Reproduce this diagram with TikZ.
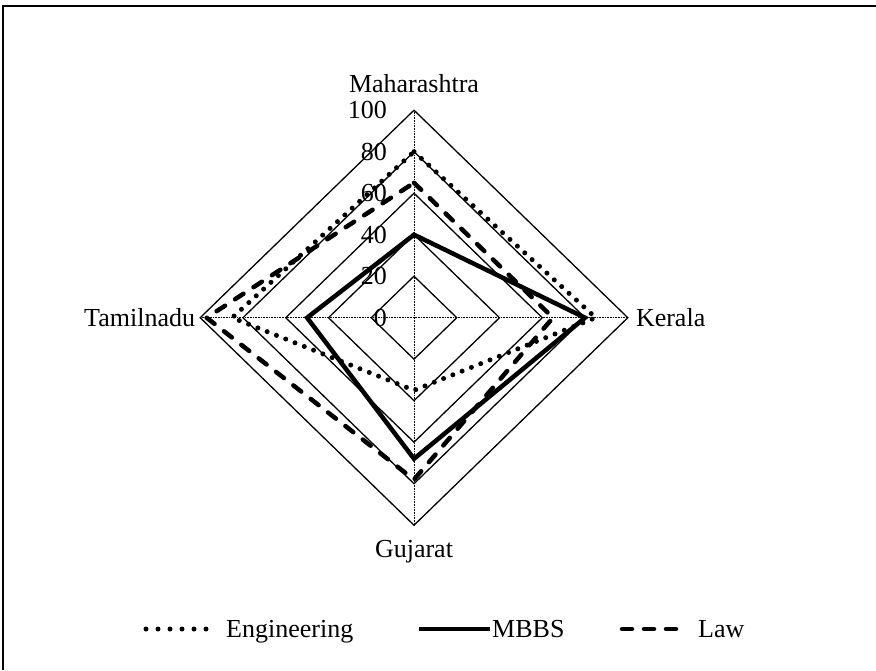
\documentclass[tikz,border=0pt]{standalone}
\usepackage{fontspec}
\setmainfont{Liberation Serif}
\usetikzlibrary{positioning}

\begin{document}
\begin{tikzpicture}[x=1pt,y=-1pt,
        gridline/.style={line width=1.3pt},
        axisline/.style={line width=0.7pt, dash pattern=on 0.8pt off 0.8pt},
        engg/.style={line width=5pt, line cap=round, dash pattern=on 0pt off 10pt},
        mbbs/.style={line width=4.5pt, line join=miter},
        law/.style={line width=4.5pt, line cap=round, dash pattern=on 10pt off 12pt},
        lbl/.style={font=\fontsize{26}{30}\selectfont, inner sep=0pt},
        keylbl/.style={lbl, text depth=0pt, text height=17pt}]
        \useasboundingbox (0,0) rectangle (876,670);
        \draw[line width=1.8pt] (3,670) -- (3,6) -- (876,6);
        \begin{scope}[shift={(414,317.7)}, x=2.138pt, y=2.075pt]
            \foreach \r in {20,40,...,100}
                \draw[gridline] (0,\r) -- (\r,0) -- (0,-\r) -- (-\r,0) -- cycle;
            \draw[axisline] (0,100) -- (0,-100) (-100,0) -- (100,0);
            \foreach \r in {0,20,...,100}
                \node[lbl, anchor=east] (tick\r) at (-12.6,\r) {\r};
            \node[lbl, above=17pt] (mah) at (0,100) {Maharashtra};
            \node[lbl, right=8pt] (ker) at (100,0) {Kerala};
            \node[lbl, below=15pt] (guj) at (0,-100) {Gujarat};
            \node[lbl, left=5pt] (tam) at (-100,0) {Tamilnadu};
            \draw[engg] (0,80) -- (85,0) -- (0,-35) -- (-85,0) -- cycle;
            \draw[mbbs] (0,40) -- (80,0) -- (0,-68) -- (-50,0) -- cycle;
            \draw[law] (0,65) -- (65,0) -- (0,-78) -- (-97,0) -- cycle;
        \end{scope}
        \coordinate (e1) at (146,629);
        \coordinate (e2) at (206,629);
        \draw[engg, dash pattern=on 0pt off 12pt] (e1) -- (e2);
        \node[keylbl, right=20pt of e2] (englbl) {Engineering};
        \coordinate (m1) at (419,629);
        \coordinate (m2) at (490,629);
        \draw[mbbs] (m1) -- (m2);
        \node[keylbl, right=2pt of m2] (mbbslbl) {MBBS};
        \coordinate (l1) at (622,629);
        \coordinate (l2) at (676,629);
        \draw[law] (l1) -- (l2);
        \node[keylbl, right=22pt of l2] (lawlbl) {Law};
    \end{tikzpicture}
\end{document}
